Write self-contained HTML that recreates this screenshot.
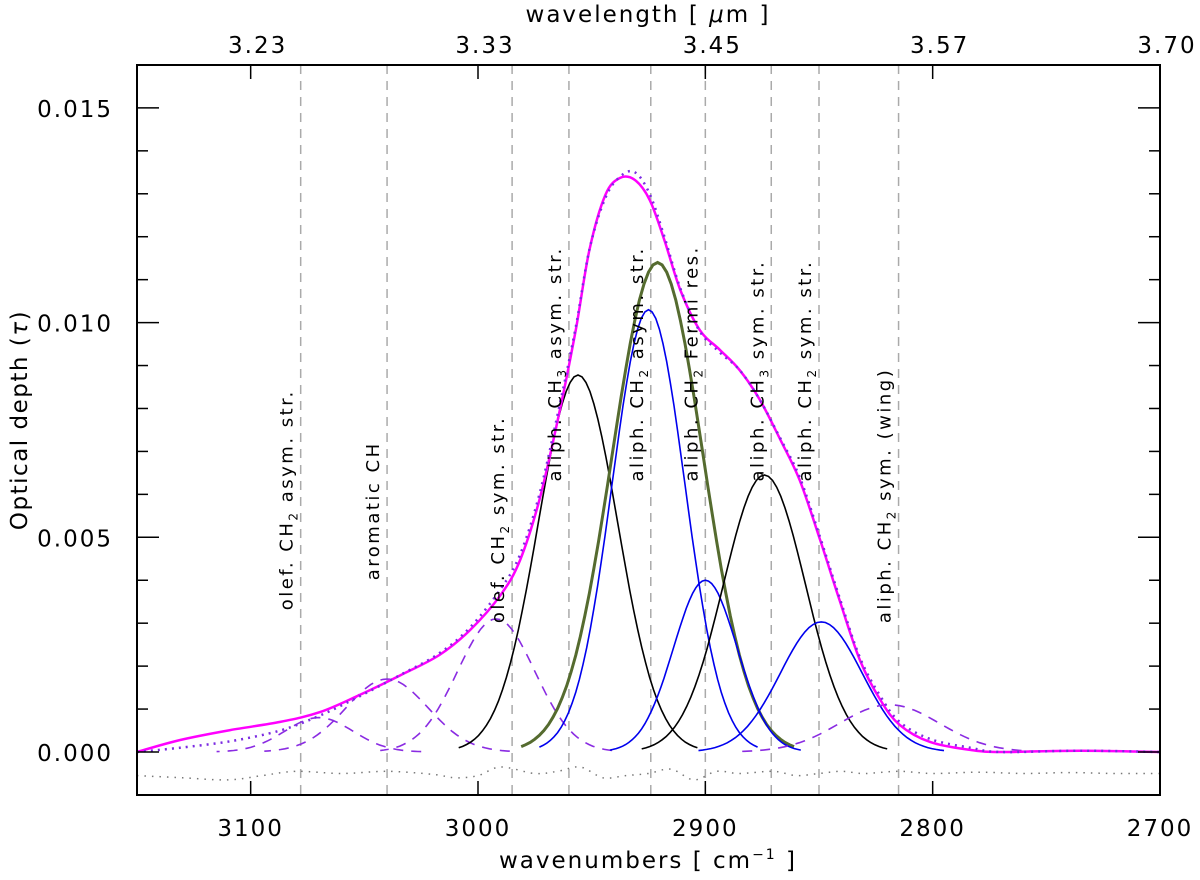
<!DOCTYPE html>
<html><head><meta charset="utf-8"><style>
html,body{margin:0;padding:0;background:#fff;}
svg{display:block;font-family:"DejaVu Sans","Liberation Sans",sans-serif;}
</style></head><body>
<svg id="chart" width="1200" height="880" viewBox="0 0 1200 880" xmlns="http://www.w3.org/2000/svg">
<g id="grid"></g><g id="curves"></g><g id="labels"></g><g id="axes"></g>
<text x="648" y="868" text-anchor="middle" font-size="23" letter-spacing="2">wavenumbers [ cm<tspan font-size="14" dy="-9">−1</tspan><tspan dy="9"> ]</tspan></text>
<text x="648" y="22" text-anchor="middle" font-size="23" letter-spacing="2">wavelength [ <tspan font-style="italic">μ</tspan>m ]</text>
<text transform="translate(27,420) rotate(-90)" text-anchor="middle" font-size="23" letter-spacing="1.5">Optical depth (<tspan font-style="italic">τ</tspan>)</text>
</svg>
<script>
// ---- data ----
const obsWn = [3150,3131,3109,3087,3069.5,3052,3034,3017,3003.5,2990,2981.5,2973,2964,2957,2951,2944,2937.5,2931,2924.5,2918,2911,2902.5,2893.5,2885,2876,2867,2858.5,2849.5,2841,2832,2823,2814.5,2801,2783.5,2770,2735,2700];
const fitTau = [0,0.00028,0.00051,0.0007,0.00093,0.00133,0.00179,0.00226,0.00284,0.00366,0.00447,0.00587,0.00796,0.00983,0.01169,0.01297,0.01337,0.01332,0.01286,0.01192,0.01076,0.00983,0.00936,0.0089,0.0082,0.00727,0.00633,0.00494,0.00354,0.00214,0.00121,0.00063,0.00023,0.00005,0,0.00003,0];
const obsTau = [0,0.0001,0.00025,0.0005,0.00085,0.0013,0.0018,0.0023,0.0029,0.0038,0.0046,0.0060,0.0081,0.0099,0.0117,0.0129,0.0134,0.0135,0.0130,0.0120,0.0108,0.0098,0.0093,0.0089,0.0082,0.0073,0.0064,0.0050,0.0036,0.0022,0.0013,0.0007,0.0003,0.0001,0,0.00003,0];
const resWn = [3150,3130,3110,3095,3080,3060,3040,3020,3010,3000,2990,2975,2965,2955,2945,2935,2925,2915,2905,2895,2885,2870,2860,2850,2840,2830,2815,2800,2780,2760,2740,2720,2700];
const resTau = [-0.00055,-0.0006,-0.00065,-0.00055,-0.00045,-0.0005,-0.00045,-0.00052,-0.0006,-0.00055,-0.00035,-0.0005,-0.00045,-0.00035,-0.0006,-0.00055,-0.0005,-0.0004,-0.00065,-0.00045,-0.0005,-0.00045,-0.00055,-0.0005,-0.00045,-0.0005,-0.00045,-0.0005,-0.00047,-0.0005,-0.00048,-0.0005,-0.0005];
const compCenter = [3070,3040,2992,2956,2921,2925,2900,2874,2849,2819];
const compAmp    = [0.0008,0.0017,0.0031,0.00878,0.0114,0.0103,0.0040,0.00645,0.00303,0.0011];
const compSigma  = [15,18,17,17.5,20,16,14,18,18,22];
const compColor  = ['#8a2be2','#8a2be2','#8a2be2','#000','#556b2f','#0000ee','#0000ee','#000','#0000ee','#8a2be2'];
const compWidth  = [1.6,1.6,1.6,1.6,3,1.6,1.6,1.6,1.6,1.6];
const compDash   = ['10,8','10,8','10,8','','','','','','','10,8'];
const featWn = [3078,3040,2985,2960,2924,2900,2871,2850,2815];
const featText = ['olef. CH|2| asym. str.','aromatic CH','olef. CH|2| sym. str.','aliph. CH|3| asym. str.','aliph. CH|2| asym. str.','aliph. CH|2| Fermi res.','aliph. CH|3| sym. str.','aliph. CH|2| sym. str.','aliph. CH|2| sym. (wing)'];
const featBottom = [0.0033,0.0040,0.0030,0.0063,0.0063,0.0063,0.0063,0.0063,0.0030];
const xTicks = [3100,3000,2900,2800,2700];
const yTicks = [0,0.005,0.010,0.015];
const yTickLabels = ['0.000','0.005','0.010','0.015'];
const topTickLabels = ['3.23','3.33','3.45','3.57','3.70'];

// ---- axes ----
const L=137,R=1160,T=65,B=795;
const X = w => L + (3150-w)/450*(R-L);
const Y = t => 752 - t*42940;
const NS='http://www.w3.org/2000/svg';
function mk(tag,attrs,parent){const e=document.createElementNS(NS,tag);for(const k in attrs)e.setAttribute(k,attrs[k]);parent.appendChild(e);return e;}
const gGrid=document.getElementById('grid'),gC=document.getElementById('curves'),gL=document.getElementById('labels'),gA=document.getElementById('axes');

featWn.forEach((w,i)=>{
  const l=mk('line',{x1:X(w),x2:X(w),y1:T,y2:B,stroke:'#aaa','stroke-width':1.5,'stroke-dasharray':'9,7'},gGrid);
  
  
});

function smoothD(xs,ys){
  const p=xs.map((w,i)=>[X(w),Y(ys[i])]);
  let d='M'+p[0][0].toFixed(1)+','+p[0][1].toFixed(1);
  for(let i=0;i<p.length-1;i++){
    const p0=p[Math.max(0,i-1)],p1=p[i],p2=p[i+1],p3=p[Math.min(p.length-1,i+2)];
    const c1=[p1[0]+(p2[0]-p0[0])/6,p1[1]+(p2[1]-p0[1])/6];
    const c2=[p2[0]-(p3[0]-p1[0])/6,p2[1]-(p3[1]-p1[1])/6];
    d+='C'+c1.map(v=>v.toFixed(1)).join(',')+' '+c2.map(v=>v.toFixed(1)).join(',')+' '+p2[0].toFixed(1)+','+p2[1].toFixed(1);
  }
  return d;
}

compCenter.forEach((c,i)=>{
  const s=compSigma[i];let d='';
  for(let w=c-3*s,k=0;w<=c+3*s+0.01;w+=s/10,k++){d+=(k?'L':'M')+X(w).toFixed(1)+','+Y(compAmp[i]*Math.exp(-0.5*((w-c)/s)**2)).toFixed(1);}
  const p=mk('path',{d:d,fill:'none',stroke:compColor[i],'stroke-width':compWidth[i]},gC);
  if(compDash[i])p.setAttribute('stroke-dasharray',compDash[i]);
  
  
});
const res=mk('path',{d:smoothD(resWn,resTau),fill:'none',stroke:'#777','stroke-width':1.5,'stroke-dasharray':'1.5,6'},gC);


const fit=mk('path',{d:smoothD(obsWn,fitTau),fill:'none',stroke:'#ff00ff','stroke-width':2.5,'stroke-linejoin':'round'},gC);


const obs=mk('path',{d:smoothD(obsWn,obsTau),fill:'none',stroke:'#7b2be2','stroke-width':2.5,'stroke-dasharray':'2,5'},gC);



featText.forEach((t,i)=>{
  const x=X(featWn[i])-8,y=Y(featBottom[i]);
  const tx=mk('text',{x:0,y:0,transform:`translate(${x},${y}) rotate(-90)`,'font-size':18,'letter-spacing':2.5,fill:'#000'},gL);
  
  
  t.split('|').forEach((part,j)=>{
    const sp=mk('tspan',{},tx);sp.textContent=part;
    if(j===1){sp.setAttribute('font-size',12);sp.setAttribute('dy',5);}
    if(j===2){sp.setAttribute('dy',-5);}
  });
});

// frame
const fr=mk('rect',{x:L,y:T,width:R-L,height:B-T,fill:'none',stroke:'#000','stroke-width':2},gA);


xTicks.forEach((w,i)=>{
  mk('line',{x1:X(w),x2:X(w),y1:B,y2:B-14,stroke:'#000','stroke-width':1.5},gA);
  mk('line',{x1:X(w),x2:X(w),y1:T,y2:T+14,stroke:'#000','stroke-width':1.5},gA);
  const t=mk('text',{x:X(w),y:B+41,'text-anchor':'middle','font-size':23,'letter-spacing':2},gA);t.textContent=w;
  
  
  const t2=mk('text',{x:X(w)+7,y:T-12,'text-anchor':'middle','font-size':23,'letter-spacing':2},gA);t2.textContent=topTickLabels[i];
  
  
});
for(let v=-0.001;v<=0.0162;v+=0.001){
  const maj=Math.abs(Math.round(v*1000)%5)===0;const len=maj?22:11;
  mk('line',{x1:L,x2:L+len,y1:Y(v),y2:Y(v),stroke:'#000','stroke-width':1.5},gA);
  mk('line',{x1:R,x2:R-len,y1:Y(v),y2:Y(v),stroke:'#000','stroke-width':1.5},gA);
}
yTicks.forEach((v,i)=>{
  const t=mk('text',{x:L-24,y:Y(v)+9,'text-anchor':'end','font-size':23,'letter-spacing':2},gA);t.textContent=yTickLabels[i];
  
  
});
</script>
</body></html>
